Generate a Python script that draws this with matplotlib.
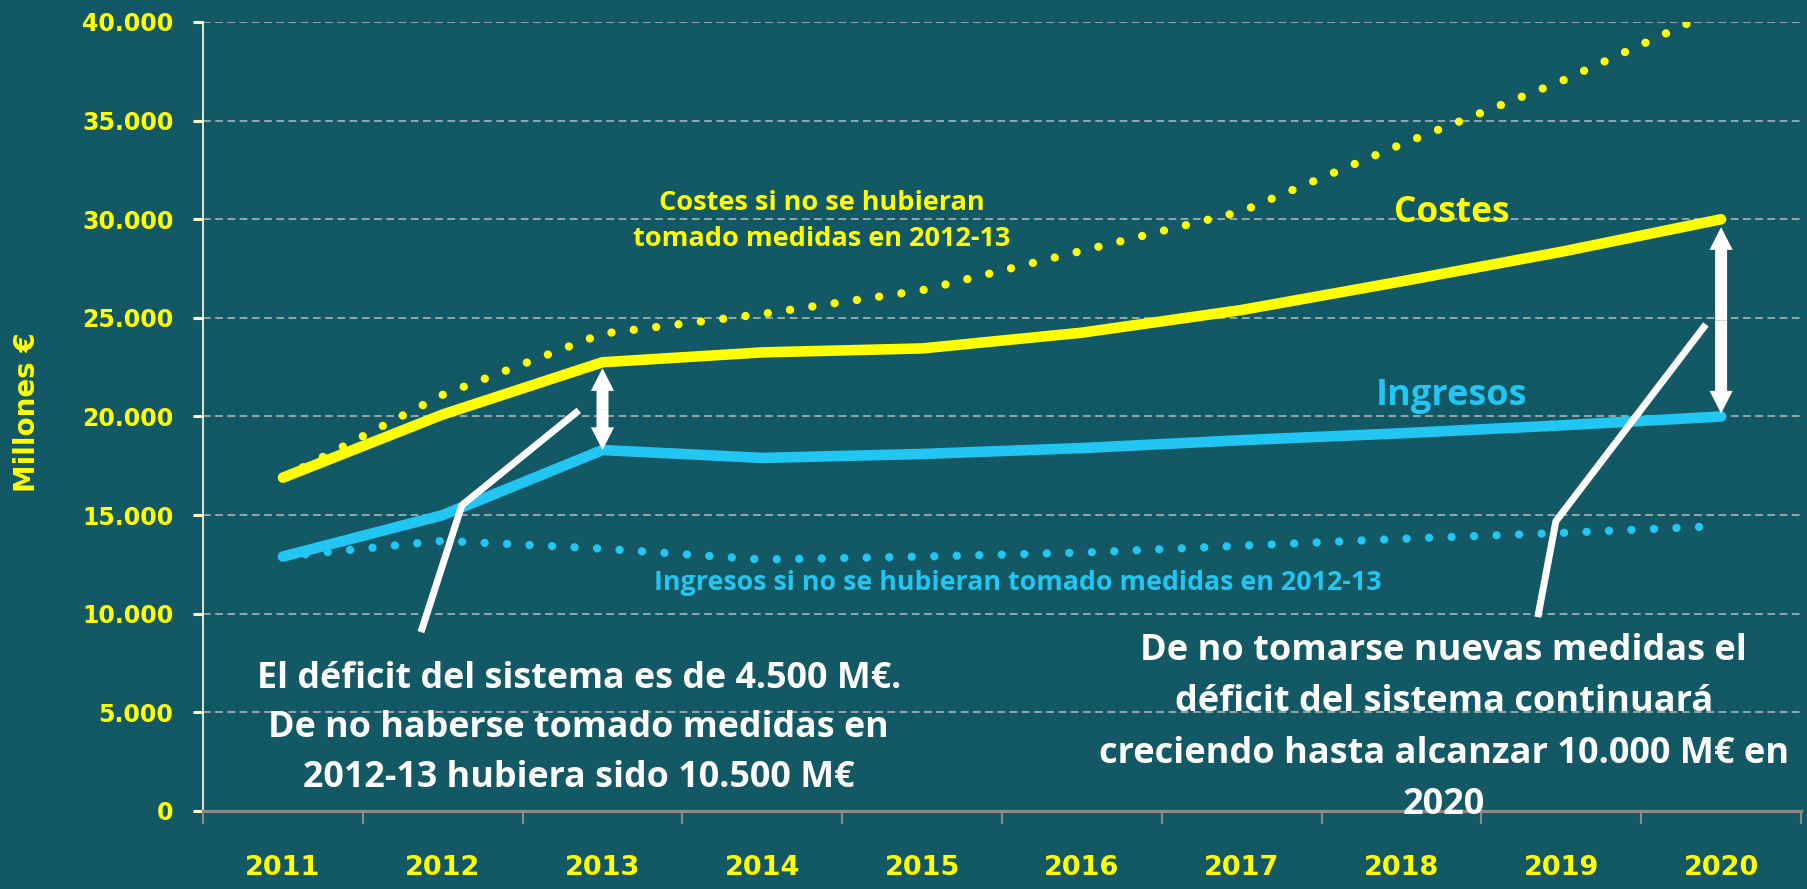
import matplotlib
matplotlib.use("Agg")
import matplotlib.pyplot as plt
from matplotlib.ticker import FixedLocator, FuncFormatter

BG = "#125865"
YELLOW = "#FFFF00"
CYAN = "#22C6F2"
TEXT_FONT = ["Open Sans", "DejaVu Sans"]

years = ["2011", "2012", "2013", "2014", "2015", "2016", "2017", "2018", "2019", "2020"]
costes = [16900, 20100, 22750, 23250, 23450, 24250, 25400, 26850, 28350, 30000]
ingresos = [12900, 15000, 18300, 17900, 18100, 18400, 18800, 19150, 19550, 20000]
costes_sin_medidas = [16900, 21100, 24200, 25200, 26400, 28400, 30400, 33800, 37000, 40700]
ingresos_sin_medidas = [12900, 13700, 13300, 12750, 12900, 13100, 13450, 13800, 14100, 14450]

y_ticks = list(range(0, 40001, 5000))


def thousands(v, _pos):
    return f"{int(v):,}".replace(",", ".")


def double_arrow(ax, i, lo, hi):
    """Vertical white double arrow between two series at category i."""
    mid = (lo + hi) / 2
    kw = dict(width=0.075, head_width=0.145, head_length=1150,
              length_includes_head=True, color="white", lw=0, zorder=6)
    ax.arrow(i, mid, 0, hi - mid, **kw)
    ax.arrow(i, mid, 0, lo - mid, **kw)


fig = plt.figure(figsize=(18.08, 8.89), dpi=100, facecolor=BG)
ax = fig.add_axes([203 / 1808, 78 / 889, 1598 / 1808, 789 / 889])
ax.set_facecolor(BG)

x = list(range(len(years)))

# dotted "sin medidas" scenarios first, solid series on top
dots = dict(lw=6.0, linestyle=(0, (0.001, 2.7)), dash_capstyle="round", zorder=3)
ax.plot(x, costes_sin_medidas, color=YELLOW, **dots)
ax.plot(x, ingresos_sin_medidas, color=CYAN, **dots)
ax.plot(x, costes, color=YELLOW, lw=7.6, solid_capstyle="round", solid_joinstyle="round", zorder=4)
ax.plot(x, ingresos, color=CYAN, lw=7.6, solid_capstyle="round", solid_joinstyle="round", zorder=4)

# deficit arrows 2013 and 2020
double_arrow(ax, 2, ingresos[2], costes[2] - 300)
double_arrow(ax, 9, ingresos[9] + 150, costes[9] - 400)

# callout lines
ax.plot([1.852, 1.120, 0.864], [20310, 15500, 9070], color="white", lw=5, zorder=5,
        solid_capstyle="butt", clip_on=False)
ax.plot([8.905, 7.966, 7.853], [24670, 14690, 9830], color="white", lw=5, zorder=5,
        solid_capstyle="butt", clip_on=False)

# axes styling
ax.set_xlim(-0.5, len(years) - 0.5)
ax.set_ylim(0, 40000)
ax.yaxis.set_major_locator(FixedLocator(y_ticks))
ax.yaxis.set_major_formatter(FuncFormatter(thousands))
ax.set_xticks(x)
ax.set_xticklabels(years)
ax.xaxis.set_minor_locator(FixedLocator([i - 0.5 for i in range(len(years) + 1)]))

ax.yaxis.grid(True, color="#B9BDBD", lw=1.1, linestyle=(0, (5, 3)), zorder=1)
ax.set_axisbelow(True)

for side in ("top", "right"):
    ax.spines[side].set_visible(False)
ax.spines["left"].set_color("#FFFFE6")
ax.spines["left"].set_linewidth(1.2)
ax.spines["bottom"].set_color("#8A8A8A")
ax.spines["bottom"].set_linewidth(2.3)

ax.tick_params(axis="y", direction="out", length=7.2, width=2.2, color="#FFF7C8",
               pad=14, labelcolor=YELLOW, labelsize=17)
ax.tick_params(axis="x", which="major", length=0, pad=32, labelcolor=YELLOW, labelsize=19.5)
ax.tick_params(axis="x", which="minor", direction="out", length=9.5, width=1.5, color="#8A8A8A")
for lab in ax.get_yticklabels() + ax.get_xticklabels():
    lab.set_fontweight("bold")
    lab.set_family("DejaVu Sans")

fig.text(27 / 1808, 1 - 412 / 889, "Millones €", rotation=90, ha="center", va="center",
         color=YELLOW, fontsize=20, fontweight="bold", family="DejaVu Sans")

# series labels
ax.text(7.315, 29850, "Costes", color=YELLOW, fontsize=25.4, fontweight="bold",
        family=TEXT_FONT, ha="center", va="baseline", zorder=7)
ax.text(7.315, 20570, "Ingresos", color=CYAN, fontsize=26, fontweight="bold",
        family=TEXT_FONT, ha="center", va="baseline", zorder=7)
ax.text(3.373, 29900, "Costes si no se hubieran\ntomado medidas en 2012-13", color=YELLOW,
        fontsize=19.5, fontweight="bold", family=TEXT_FONT, ha="center", va="center",
        linespacing=1.48, zorder=7)
ax.text(4.6, 11550, "Ingresos si no se hubieran tomado medidas en 2012-13", color=CYAN,
        fontsize=19.3, fontweight="bold", family=TEXT_FONT, ha="center", va="center", zorder=7)

# explanatory notes
ax.text(1.852, 4205, "El déficit del sistema es de 4.500 M€.\nDe no haberse tomado medidas en\n"
        "2012-13 hubiera sido 10.500 M€", color="white", fontsize=25.8, fontweight="bold",
        family=TEXT_FONT, ha="center", va="center", linespacing=1.5, zorder=7)
ax.text(7.265, 4205, "De no tomarse nuevas medidas el\ndéficit del sistema continuará\n"
        "creciendo hasta alcanzar 10.000 M€ en\n2020", color="white", fontsize=26,
        fontweight="bold", family=TEXT_FONT, ha="center", va="center", linespacing=1.57,
        zorder=7)

fig.savefig("out.png", dpi=100, facecolor=BG)
